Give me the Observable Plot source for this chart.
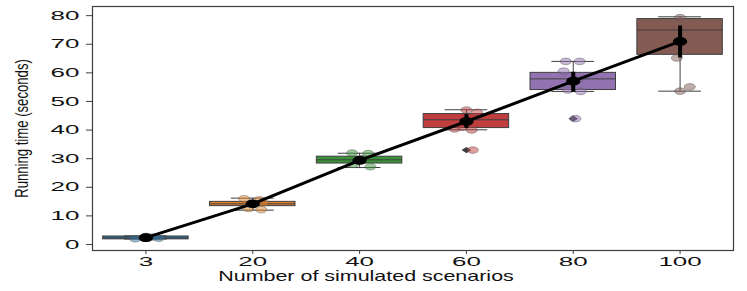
<!DOCTYPE html>
<html><head><meta charset="utf-8">
<script src="https://cdn.jsdelivr.net/npm/d3@7"></script>
<script src="https://cdn.jsdelivr.net/npm/@observablehq/plot@0.6"></script>
<style>body{margin:0;background:#fff;} #chart svg{display:block;}</style>
</head><body><div id="chart"></div>
<script>
const categories = ["3","20","40","60","80","100"];
const boxColors = ["#3274a1","#e1812c","#3a923a","#c03d3e","#9372b2","#845b53"];
const boxQ1 = [1.8, 13.4, 28.3, 40.7, 54.0, 66.3];
const boxMedian = [2.3, 14.2, 29.6, 43.6, 57.9, 75.0];
const boxQ3 = [2.8, 14.9, 30.7, 45.6, 60.0, 78.8];
const whiskerLow = [1.9, 12.0, 26.9, 40.1, 53.5, 53.6];
const whiskerHigh = [3.0, 16.2, 31.9, 47.1, 64.0, 79.6];
const outlierCat = [3, 4];
const outlierValue = [33.0, 44.0];
const meanValue = [2.4, 14.2, 29.4, 43.0, 57.1, 71.0];
const ciLow = [2.1, 13.4, 28.6, 40.6, 53.2, 65.2];
const ciHigh = [2.7, 15.1, 30.2, 45.4, 60.2, 76.4];
const pointCat = [0,0,0,0,0, 1,1,1,1,1, 2,2,2,2,2, 3,3,3,3,3,3, 4,4,4,4,4,4,4, 5,5,5,5];
const pointValue = [2.0,2.3,2.6,2.2,2.8, 16.0,15.6,14.6,12.6,12.2, 32.0,31.8,30.0,28.0,27.2, 47.0,46.2,41.0,40.4,40.0,33.0, 64.0,64.0,60.6,57.5,54.0,53.5,44.0, 79.3,65.2,55.1,53.6];
const pointJitter = [-0.10,-0.02,0.06,0.12,0.0, -0.08,0.06,0.10,-0.04,0.08, -0.07,0.08,0.02,-0.06,0.10, 0.0,0.10,-0.04,-0.11,0.05,0.06, -0.07,0.06,-0.09,0.04,-0.05,0.07,0.02, 0.0,-0.03,0.09,0.0];
const yTicks = [0,10,20,30,40,50,60,70,80];
const xLabel = "Number of simulated scenarios";
const yLabel = "Running time (seconds)";

const idx = categories.map((_, i) => i);
const boxes = idx.map(i => ({i, q1: boxQ1[i], med: boxMedian[i], q3: boxQ3[i], lo: whiskerLow[i], hi: whiskerHigh[i], color: boxColors[i], mean: meanValue[i], cl: ciLow[i], ch: ciHigh[i]}));
const points = pointCat.map((c, k) => ({x: c + pointJitter[k], y: pointValue[k], color: boxColors[c]}));
const outliers = outlierCat.map((c, k) => ({x: c, y: outlierValue[k]}));

function ellipseSymbol(ratio) {
  return {draw(ctx, size) {
    const r = Math.sqrt(size / Math.PI), rx = r * ratio, ry = r, k = 0.5523;
    ctx.moveTo(rx, 0);
    ctx.bezierCurveTo(rx, ry*k, rx*k, ry, 0, ry);
    ctx.bezierCurveTo(-rx*k, ry, -rx, ry*k, -rx, 0);
    ctx.bezierCurveTo(-rx, -ry*k, -rx*k, -ry, 0, -ry);
    ctx.bezierCurveTo(rx*k, -ry, rx, -ry*k, rx, 0);
    ctx.closePath();
  }};
}
const diamondSymbol = {draw(ctx, size) {
  const r = Math.sqrt(size / Math.PI);
  ctx.moveTo(r*1.5, 0); ctx.lineTo(0, r); ctx.lineTo(-r*1.5, 0); ctx.lineTo(0, -r); ctx.closePath();
}};

const edge = "#3f3f3f";
const chart = Plot.plot({
  width: 747, height: 291,
  marginLeft: 92, marginRight: 14, marginTop: 6, marginBottom: 41,
  style: {fontFamily: "Liberation Sans, Arial, sans-serif", background: "#fff"},
  x: {type: "linear", domain: [-0.5, 5.5]},
  y: {domain: [-2.1, 83.2]},
  marks: [
    Plot.rect(boxes, {x1: d => d.i - 0.4, x2: d => d.i + 0.4, y1: "q1", y2: "q3", fill: "color", stroke: edge, strokeWidth: 1, inset: 0}),
    Plot.ruleY(boxes, {x1: d => d.i - 0.4, x2: d => d.i + 0.4, y: "med", stroke: edge, strokeWidth: 1}),
    Plot.ruleX(boxes, {x: "i", y1: "q3", y2: "hi", stroke: edge, strokeWidth: 1}),
    Plot.ruleX(boxes, {x: "i", y1: "lo", y2: "q1", stroke: edge, strokeWidth: 1}),
    Plot.ruleY(boxes, {x1: d => d.i - 0.2, x2: d => d.i + 0.2, y: "hi", stroke: edge, strokeWidth: 1}),
    Plot.ruleY(boxes, {x1: d => d.i - 0.2, x2: d => d.i + 0.2, y: "lo", stroke: edge, strokeWidth: 1}),
    Plot.dot(outliers, {x: "x", y: "y", r: 3.2, symbol: diamondSymbol, fill: edge, stroke: "none"}),
    Plot.dot(points, {x: "x", y: "y", r: 3.3, symbol: ellipseSymbol(1.7), fill: "color", fillOpacity: 0.5, stroke: "#555", strokeOpacity: 0.55, strokeWidth: 0.8}),
    Plot.line(boxes, {x: "i", y: "mean", stroke: "black", strokeWidth: 3}),
    Plot.ruleX(boxes, {x: "i", y1: "cl", y2: "ch", stroke: "black", strokeWidth: 4}),
    Plot.dot(boxes, {x: "i", y: "mean", r: 4.4, symbol: ellipseSymbol(1.6), fill: "black"}),
    Plot.frame({stroke: edge, strokeWidth: 1.2}),
    Plot.axisY({ticks: yTicks, tickSize: 6, tickPadding: 7, label: null, fontSize: 13, stroke: edge, color: "#111"}),
    Plot.axisX({ticks: idx, tickFormat: i => categories[i], tickSize: 4, tickPadding: 2, label: null, fontSize: 13, stroke: edge, color: "#111"}),
    Plot.text([xLabel], {frameAnchor: "bottom", dx: -47, dy: 30, text: d => d, fontSize: 14.5, fill: "#111", textAnchor: "middle"}),
    Plot.text([yLabel], {frameAnchor: "left", dx: -70, rotate: -90, text: d => d, fontSize: 18, fill: "#111", textAnchor: "middle"})
  ]
});
document.getElementById("chart").appendChild(chart);

function stretch(t, sx, sAlong) {
  let tr = t.getAttribute("transform") || "";
  if (!tr) {
    const x = +t.getAttribute("x") || 0, y = +t.getAttribute("y") || 0;
    t.removeAttribute("x"); t.removeAttribute("y");
    tr = `translate(${x},${y})`;
  }
  if (/rotate/.test(tr)) tr = tr + ` scale(${sAlong},1)`;
  else tr = tr + ` scale(${sx},1)`;
  t.setAttribute("transform", tr);
}
chart.querySelectorAll("g[aria-label='y-axis tick label'] text, g[aria-label='x-axis tick label'] text").forEach(t => stretch(t, 2.0, 1));
chart.querySelectorAll("g[aria-label='text'] text").forEach(t => stretch(t, 1.48, 0.73));
</script></body></html>
